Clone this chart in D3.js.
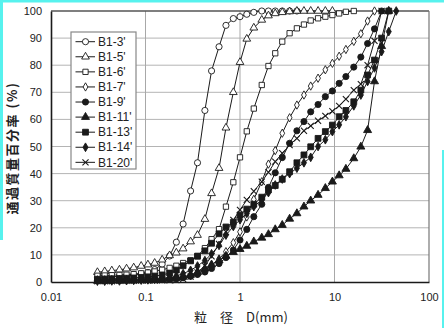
<!DOCTYPE html>
<html><head><meta charset="utf-8">
<script src="https://cdn.jsdelivr.net/npm/d3@7"></script>
<style>
html,body{margin:0;padding:0;background:#fff;}
svg{display:block;}
</style></head>
<body>
<svg id="chart" width="444" height="328"></svg>
<script>
// ---- data ----
const grainSizes = [0.031,0.037,0.044,0.053,0.063,0.075,0.09,0.106,0.125,0.15,0.18,0.212,0.25,0.3,0.355,0.425,0.5,0.6,0.71,0.85,1,1.18,1.4,1.7,2,2.36,2.8,3.35,4,4.75,5.6,6.7,8,9.5,11.2,13.2,16,19,22.4,26.5,31.5,37.5,45];
const seriesNames = ["B1-3'","B1-5'","B1-6'","B1-7'","B1-9'","B1-11'","B1-13'","B1-14'","B1-20'"];
const b1_3  = [1.5,1.7,1.9,2.1,2.3,2.6,3.0,3.5,4.6,6.6,9.6,14.7,21.4,33.6,44.0,63.3,77.9,86.8,94.7,97.2,97.9,98.8,99.5,100,100,100,100,100,100];
const b1_5  = [3.6,3.9,4.2,4.5,4.9,5.3,5.9,6.4,7.0,8.2,9.8,10.8,12.3,14.9,17.3,23.2,32.7,42.0,56.9,70.0,81.1,89.7,93.8,96.7,98.3,99.1,99.5,99.8,100,100,100,100,100,100];
const b1_6  = [2.3,2.4,2.5,2.6,2.7,2.9,3.2,3.5,3.9,4.5,5.2,6.0,7.0,8.0,9.6,12.5,15.8,19.5,27.8,36.8,46.0,55.6,64.0,72.7,79.7,84.4,88.7,91.8,93.6,95.0,96.5,97.3,97.9,98.5,99.1,99.7,100];
const b1_7  = [0.8,0.8,0.9,0.9,1.0,1.0,1.1,1.1,1.2,1.3,1.4,1.6,1.9,2.4,3.2,4.5,6.2,8.5,11.2,14.5,18.5,24.0,30.5,37.0,43.5,48.5,54.9,60.6,65.3,69.0,72.3,75.2,78.3,80.7,83.3,85.8,88.8,91.6,96.3,100];
const b1_9  = [0.5,0.5,0.6,0.6,0.7,0.7,0.8,0.8,0.9,1.0,1.1,1.3,1.6,2.1,2.8,3.7,5.0,6.8,9.0,11.8,15.5,19.4,24.1,28.7,34.9,40.3,45.9,51.2,55.8,59.2,62.8,65.5,68.4,70.5,73.3,75.8,79.3,83.0,88.0,93.4,100];
const b1_11 = [0.4,0.4,0.5,0.5,0.6,0.6,0.7,0.7,0.8,0.9,1.1,1.4,1.9,2.6,3.6,4.9,6.4,8.0,9.6,11.0,12.1,13.3,14.9,16.3,17.6,19.4,21.0,23.3,25.3,27.8,30.0,32.1,34.6,37.0,39.3,41.7,45.6,49.9,56.0,74.0,87.0,100];
const b1_13 = [1.0,1.1,1.2,1.3,1.4,1.5,1.7,1.9,2.2,2.6,3.3,4.4,6.0,7.8,9.5,11.5,14.3,17.8,20.3,22.0,24.7,26.9,28.7,31.3,34.0,35.6,37.9,40.7,44.0,46.9,49.9,53.0,55.5,57.9,61.0,63.3,66.5,70.8,76.4,81.9,90.0,100];
const b1_14 = [0.3,0.3,0.4,0.4,0.5,0.6,0.7,0.8,1.0,1.2,1.6,2.2,3.1,4.3,5.9,7.9,10.4,13.5,17.3,20.5,23.0,25.3,27.8,30.3,33.0,35.8,38.0,40.0,42.0,44.0,46.0,50.0,52.5,55.5,58.0,61.0,65.0,69.0,74.0,79.0,85.0,92.4,100];
const b1_20 = [0.3,0.3,0.3,0.4,0.4,0.4,0.5,0.5,0.5,0.6,0.6,0.7,1.1,2.0,3.5,6.0,9.5,14.0,18.5,22.9,26.6,30.3,33.5,37.0,40.5,44.4,47.5,50.5,53.0,55.8,57.6,59.5,61.3,63.0,65.0,67.5,70.8,73.0,80.0,89.0,100];
const xTickValues = [0.01,0.1,1,10,100];
const xTickLabels = ["0.01","0.1","1","10","100"];
const yTickValues = [0,10,20,30,40,50,60,70,80,90,100];
const yTitle = "通過質量百分率 (%)";
const xTitle = "粒\u3000径\u3000D(mm)";

const seriesValues = [b1_3,b1_5,b1_6,b1_7,b1_9,b1_11,b1_13,b1_14,b1_20];
const symX = d3.symbolX || {draw(c,s){const r=Math.sqrt(s)/2;c.moveTo(-r,-r);c.lineTo(r,r);c.moveTo(-r,r);c.lineTo(r,-r);}};
const markerStyle = [
  {type:d3.symbolCircle,   size:30, fill:false},
  {type:d3.symbolTriangle, size:26, fill:false},
  {type:d3.symbolSquare,   size:28, fill:false},
  {type:d3.symbolDiamond,  size:20, fill:false},
  {type:d3.symbolCircle,   size:30, fill:true},
  {type:d3.symbolTriangle, size:28, fill:true},
  {type:d3.symbolSquare,   size:34, fill:true},
  {type:d3.symbolDiamond,  size:22, fill:true},
  {type:symX,              size:26, fill:null}
];

// ---- layout ----
const svg = d3.select("#chart");
const W=444,H=328;
const m = {left:51, right:429, top:11, bottom:282};
const x = d3.scaleLog().domain([0.01,100]).range([m.left,m.right]);
const y = d3.scaleLinear().domain([0,100]).range([m.bottom,m.top]);
const ink = "#1a1a1a";

svg.append("rect").attr("width",W).attr("height",H).attr("fill","#fff");
// scan edge tint
svg.append("rect").attr("x",0).attr("y",0).attr("width",W).attr("height",2.5).attr("fill","#57f2ee");
svg.append("rect").attr("x",0).attr("y",0).attr("width",3).attr("height",240).attr("fill","#57f2ee");
svg.append("rect").attr("x",442).attr("y",150).attr("width",2).attr("height",178).attr("fill","#57f2ee");

// grid
const g = svg.append("g");
g.append("g").selectAll("line").data(yTickValues.filter(v=>v>0&&v<100)).join("line")
  .attr("x1",m.left).attr("x2",m.right).attr("y1",d=>y(d)).attr("y2",d=>y(d))
  .attr("stroke","#b4b4b4").attr("stroke-width",1);
g.append("g").selectAll("line").data(xTickValues.filter(v=>v>0.01&&v<100)).join("line")
  .attr("y1",m.top).attr("y2",m.bottom).attr("x1",d=>x(d)).attr("x2",d=>x(d))
  .attr("stroke","#a8a8a8").attr("stroke-width",1);
// frame
g.append("line").attr("x1",m.left).attr("x2",m.right).attr("y1",m.top).attr("y2",m.top).attr("stroke","#555").attr("stroke-width",1.5);
g.append("line").attr("x1",m.right).attr("x2",m.right).attr("y1",m.top).attr("y2",m.bottom).attr("stroke","#777").attr("stroke-width",1.2);

// axes
const xAxis = d3.axisBottom(x).tickValues(xTickValues).tickFormat((d,i)=>xTickLabels[i]).tickSize(0).tickPadding(11);
const yAxis = d3.axisLeft(y).tickValues(yTickValues).tickFormat(d3.format("d")).tickSize(0).tickPadding(9);
const gx = svg.append("g").attr("transform",`translate(0,${m.bottom})`).call(xAxis);
const gy = svg.append("g").attr("transform",`translate(${m.left},0)`).call(yAxis);
[gx,gy].forEach(a=>{
  a.select(".domain").attr("stroke",ink).attr("stroke-width",1.6);
  a.selectAll("text").attr("font-family","Liberation Sans, Arial, sans-serif").attr("font-size",11).attr("fill","#222");
});

// titles
svg.append("text").attr("transform","translate(17,148) rotate(-90)")
  .attr("text-anchor","middle").attr("font-family","Noto Sans CJK JP, sans-serif")
  .attr("font-size",13).attr("font-weight","bold").attr("letter-spacing",1.5).attr("fill","#222").text(yTitle);
svg.append("text").attr("x",241).attr("y",322).attr("text-anchor","middle")
  .attr("font-family","Noto Sans CJK JP, sans-serif").attr("font-size",13).attr("fill","#222").text(xTitle);

// series
const line = d3.line().defined(d=>d[1]!=null).x(d=>x(d[0])).y(d=>y(d[1]));
const plot = svg.append("g");
function drawMarker(sel, st){
  sel.attr("d", d3.symbol().type(st.type).size(st.size))
    .attr("fill", st.fill===true?ink:(st.fill===false?"#fff":"none"))
    .attr("stroke", ink).attr("stroke-width", st.fill===null?1.1:0.9);
}
seriesValues.forEach((vals,si)=>{
  const pts = vals.map((v,i)=>[grainSizes[i],v]);
  const sg = plot.append("g");
  sg.append("path").attr("d",line(pts)).attr("fill","none").attr("stroke",ink).attr("stroke-width",1);
  sg.selectAll("path.mk").data(pts).join("path").attr("class","mk")
    .attr("transform",d=>`translate(${x(d[0])},${y(d[1])})`)
    .call(drawMarker, markerStyle[si]);
});

// legend
const lg = svg.append("g");
lg.append("rect").attr("x",71).attr("y",32).attr("width",65).attr("height",137)
  .attr("fill","#fff").attr("stroke","#888").attr("stroke-width",1.2);
seriesNames.forEach((n,i)=>{
  const yy = 41.7 + i*15.08;
  lg.append("line").attr("x1",75.5).attr("x2",95).attr("y1",yy).attr("y2",yy).attr("stroke",ink).attr("stroke-width",1);
  lg.append("path").attr("transform",`translate(85.5,${yy})`).call(drawMarker, markerStyle[i]);
  lg.append("text").attr("x",98).attr("y",yy+4.2).attr("font-family","Liberation Sans, Arial, sans-serif")
    .attr("font-size",12).attr("fill","#222").text(n);
});
</script>
</body></html>
